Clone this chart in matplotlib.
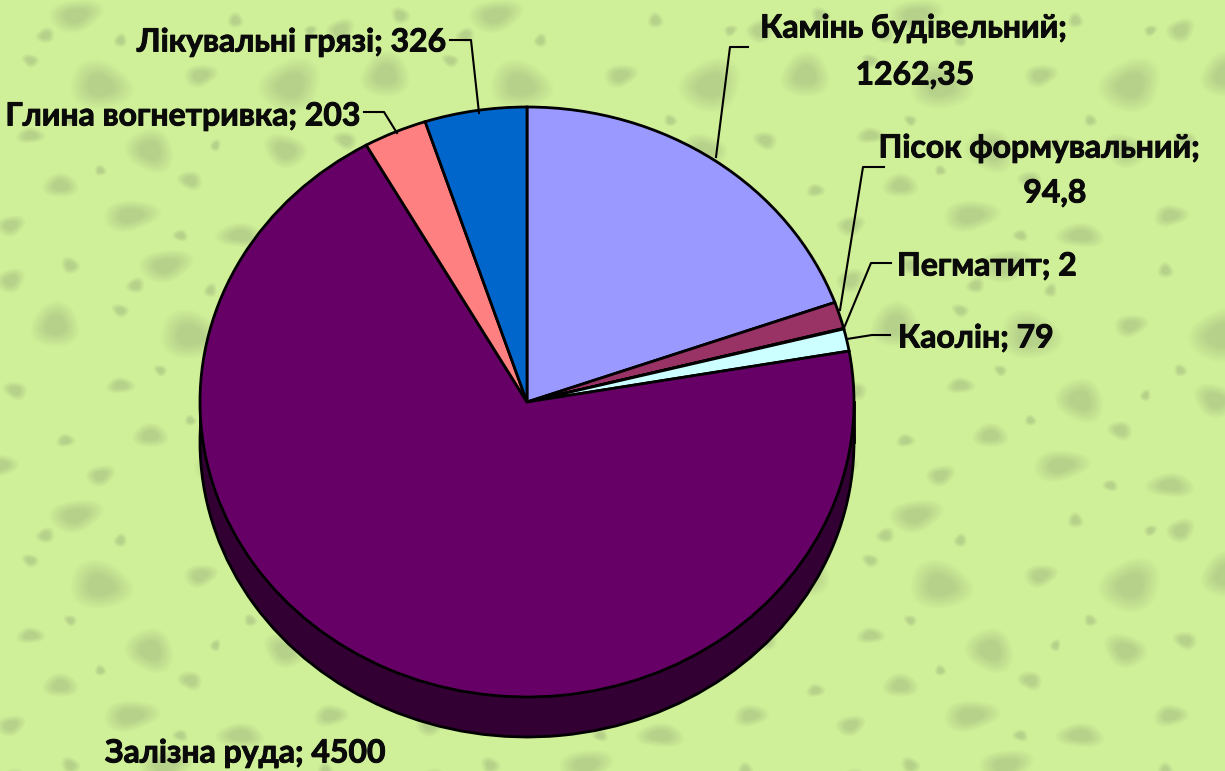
import numpy as np
import matplotlib
matplotlib.use('Agg')
import matplotlib.pyplot as plt
import matplotlib.patheffects as pe

W, H = 1225, 771
CX, CY, RX, RY = 527, 402, 327, 295
DEPTH = 40

names = ['Камінь будівельний', 'Пісок формувальний', 'Пегматит', 'Каолін',
         'Залізна руда', 'Глина вогнетривка', 'Лікувальні грязі']
values = [1262.35, 94.8, 2, 79, 4500, 203, 326]
value_text = ['1262,35', '94,8', '2', '79', '4500', '203', '326']
colors = ['#9999FF', '#993366', '#FFFFCC', '#CCFFFF', '#660066', '#FF8080', '#0066CC']
dark_colors = ['#4D4D80', '#4D1A33', '#808066', '#668080', '#330033', '#804040', '#003366']

# blobs of the paper texture, one tile: x, y, width, height (pixels)
tile_blobs = [(75, 15, 36, 22), (45, 35, 14, 10), (100, 85, 46, 30), (30, 60, 12, 9),
              (150, 150, 30, 32), (30, 135, 18, 12), (200, 75, 22, 16), (290, 85, 44, 34),
              (235, 20, 12, 10), (285, 150, 30, 22), (190, 180, 16, 14), (60, 185, 22, 18),
              (130, 215, 36, 22), (340, 30, 20, 16), (385, 75, 36, 28), (400, 15, 14, 11),
              (345, 140, 16, 13), (240, 235, 30, 18), (330, 215, 22, 16), (10, 225, 20, 14),
              (120, 40, 10, 9), (250, 120, 10, 8), (70, 120, 9, 8), (180, 235, 10, 9),
              (395, 190, 12, 10), (310, 30, 9, 8), (215, 145, 8, 8), (100, 170, 9, 7)]
TILE_X, TILE_Y = 420, 250


def px(x, y):
    """Pixel position of the reference to data units of the axes."""
    return (x - CX) / RX, (CY - y) / RY


def make_background():
    yy, xx = np.mgrid[0:H, 0:W]
    dark = np.zeros((H, W))
    for i in range(-1, 4):
        for j in range(-1, 5):
            for n, (bx, by, bw, bh) in enumerate(tile_blobs):
                x0 = bx + i * TILE_X + (j % 2) * 90
                y0 = by + j * TILE_Y
                dx = (xx - x0) / (bw * 0.75)
                dy = (yy - y0) / (bh * 0.75)
                th = np.arctan2(dy, dx)
                # slightly lumpy outline instead of clean ellipses
                r = np.hypot(dx, dy) * (1 + 0.10 * np.sin(2 * th + n) + 0.07 * np.sin(3 * th + 2 * n))
                dark = np.maximum(dark, np.clip((1 - r) * 1.6, 0, 1))
    base = np.array([207, 239, 152]) / 255
    blob = np.array([182, 209, 138]) / 255
    return base + (blob - base) * dark[..., None]


fig = plt.figure(figsize=(W / 100, H / 100), dpi=100)
ax = fig.add_axes([0, 0, 1, 1])

ax.imshow(make_background(), extent=(px(0, 0)[0], px(W, 0)[0], px(0, H)[1], px(0, 0)[1]),
          zorder=0, interpolation='bilinear')

# side of the disc: same pie moved down, then the real one on top
edge = dict(edgecolor='black', linewidth=2)
d = DEPTH / RY
ax.pie(values, colors=dark_colors, startangle=90, counterclock=False, center=(0, -d),
       wedgeprops=edge)
ax.fill_between([-1, 1], -d, 0, color=dark_colors[4], zorder=1.5)
ax.plot([-1, -1], [-d, 0], color='black', lw=2, zorder=1.6)
ax.plot([1, 1], [-d, 0], color='black', lw=2, zorder=1.6)
wedges, _ = ax.pie(values, colors=colors, startangle=90, counterclock=False, wedgeprops=edge)
for w in wedges:
    w.set_zorder(2)

ax.set_aspect('auto')
ax.set_xlim(px(0, 0)[0], px(W, 0)[0])
ax.set_ylim(px(0, H)[1], px(0, 0)[1])
ax.axis('off')

font = dict(family=['Lato', 'Noto Sans'], fontweight='bold', fontsize=23, color='#0A0A0A', zorder=5,
            path_effects=[pe.withStroke(linewidth=0.7, foreground='#0A0A0A')])

# label text: wrapped ones on two rows like the original
ax.text(*px(914, 28), f'{names[0]};', ha='center', va='center', **font)
ax.text(*px(915, 75), value_text[0], ha='center', va='center', **font)
ax.text(*px(1040, 148), f'{names[1]};', ha='center', va='center', **font)
ax.text(*px(1055, 193), value_text[1], ha='center', va='center', **font)
ax.text(*px(897, 266), f'{names[2]}; {value_text[2]}', ha='left', va='center', **font)
ax.text(*px(898, 338), f'{names[3]}; {value_text[3]}', ha='left', va='center', **font)
ax.text(*px(105, 753), f'{names[4]}; {value_text[4]}', ha='left', va='center', **font)
ax.text(*px(362, 116), f'{names[5]}; {value_text[5]}', ha='right', va='center', **font)
ax.text(*px(447, 42), f'{names[6]}; {value_text[6]}', ha='right', va='center', **font)

leaders = [[(716, 157), (730, 47), (748, 47)],
           [(840, 310), (863, 167), (884, 167)],
           [(844, 328), (871, 263), (891, 263)],
           [(847, 339), (872, 335), (890, 335)],
           [(397, 133), (384, 112), (364, 112)],
           [(479, 113), (471, 40), (450, 40)]]
for pts in leaders:
    xs, ys = zip(*[px(*p) for p in pts])
    ax.plot(xs, ys, color='black', lw=1.5, zorder=4)

fig.savefig('out.png', dpi=100)
plt.close(fig)
